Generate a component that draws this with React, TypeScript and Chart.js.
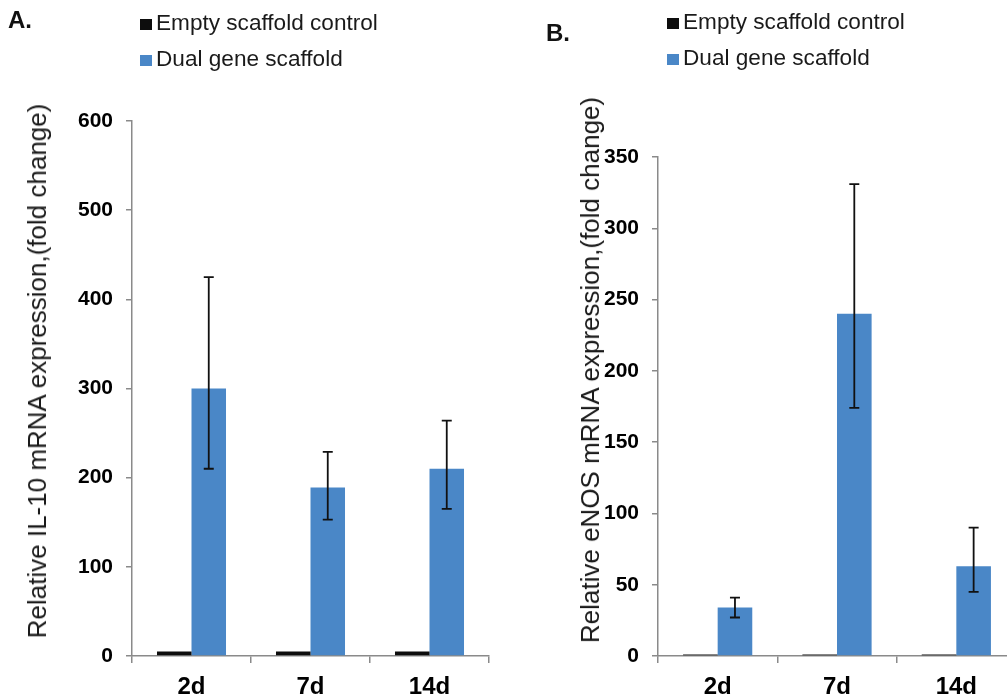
import React, { useEffect, useRef } from 'react';
import { Chart, registerables } from 'chart.js';

Chart.register(...registerables);

// ---------- data ----------
const categories = ['2d', '7d', '14d'];
const seriesNames = ['Empty scaffold control', 'Dual gene scaffold'];

// Panel A: IL-10
const il10Control = [5, 5, 5];
const il10Dual = [300, 189, 210];
const il10DualUpper = [425, 229, 264];
const il10DualLower = [210, 153, 165];
const il10AxisMax = 600;
const il10Step = 100;
const il10Title = 'Relative IL-10 mRNA expression,(fold change)';

// Panel B: eNOS
const enosControl = [1, 1, 1];
const enosDual = [34, 240, 63];
const enosDualUpper = [41, 331, 90];
const enosDualLower = [27, 174, 45];
const enosAxisMax = 350;
const enosStep = 50;
const enosTitle = 'Relative eNOS mRNA expression,(fold change)';

// ---------- style ----------
const FONT = "'Liberation Sans', Arial, Helvetica, sans-serif";
const BLACK = '#0d0d0d';
const BLUE = '#4a87c7';
const AXIS = '#8a8a8a';

const errorBarPlugin = {
  id: 'errorBars',
  afterDatasetsDraw(chart: any, _args: any, opts: any) {
    if (!opts || !opts.upper) return;
    const meta = chart.getDatasetMeta(opts.datasetIndex);
    const yScale = chart.scales.y;
    const ctx = chart.ctx;
    ctx.save();
    ctx.strokeStyle = '#111';
    ctx.lineWidth = 1.8;
    meta.data.forEach((bar: any, i: number) => {
      const x = bar.x;
      const yt = yScale.getPixelForValue(opts.upper[i]);
      const yb = yScale.getPixelForValue(opts.lower[i]);
      ctx.beginPath();
      ctx.moveTo(x, yt);
      ctx.lineTo(x, yb);
      ctx.moveTo(x - 5, yt);
      ctx.lineTo(x + 5, yt);
      ctx.moveTo(x - 5, yb);
      ctx.lineTo(x + 5, yb);
      ctx.stroke();
    });
    ctx.restore();
  },
};

type PanelProps = {
  left: number;
  width: number;
  axisWidth: number;
  padTop: number;
  padRight: number;
  control: number[];
  dual: number[];
  upper: number[];
  lower: number[];
  max: number;
  step: number;
};

function BarPanel(p: PanelProps) {
  const ref = useRef<HTMLCanvasElement | null>(null);
  useEffect(() => {
    if (!ref.current) return;
    const chart = new Chart(ref.current, {
      type: 'bar',
      data: {
        labels: categories,
        datasets: [
          {
            label: seriesNames[0],
            data: p.control,
            backgroundColor: BLACK,
            categoryPercentage: 0.58,
            barPercentage: 1,
          },
          {
            label: seriesNames[1],
            data: p.dual,
            backgroundColor: BLUE,
            categoryPercentage: 0.58,
            barPercentage: 1,
          },
        ],
      },
      options: {
        responsive: false,
        animation: false,
        layout: { padding: { left: 0, top: p.padTop, right: p.padRight, bottom: 0 } },
        plugins: {
          legend: { display: false },
          tooltip: { enabled: false },
          errorBars: { datasetIndex: 1, upper: p.upper, lower: p.lower },
        } as any,
        scales: {
          x: {
            offset: true,
            grid: {
              display: true,
              drawOnChartArea: false,
              drawTicks: true,
              tickLength: 7,
              color: AXIS,
              lineWidth: 1.5,
              offset: true,
            },
            border: { display: true, color: AXIS, width: 1.5 },
            ticks: {
              color: '#000',
              padding: 10,
              font: { family: FONT, size: 24, weight: 'bold' },
            },
            afterFit: (s: any) => {
              s.height = 43;
            },
          },
          y: {
            min: 0,
            max: p.max,
            grid: {
              display: true,
              drawOnChartArea: false,
              drawTicks: true,
              tickLength: 6,
              color: AXIS,
              lineWidth: 1.5,
            },
            border: { display: true, color: AXIS, width: 1.5 },
            ticks: {
              stepSize: p.step,
              color: '#000',
              padding: 13,
              font: { family: FONT, size: 21, weight: 'bold' },
            },
            afterFit: (s: any) => {
              s.width = p.axisWidth;
            },
          },
        },
      } as any,
      plugins: [errorBarPlugin],
    });
    return () => chart.destroy();
  }, []);
  return (
    <canvas
      ref={ref}
      width={p.width}
      height={699}
      style={{ position: 'absolute', left: p.left, top: 0, width: p.width, height: 699 }}
    />
  );
}

function Legend({ left, top }: { left: number; top: number }) {
  const colors = [BLACK, BLUE];
  return (
    <>
      {seriesNames.map((n, i) => (
        <React.Fragment key={n}>
          <div
            style={{
              position: 'absolute',
              left,
              top: top + 5 + i * 36,
              width: 12,
              height: 11,
              background: colors[i],
            }}
          />
          <div
            style={{
              position: 'absolute',
              left: left + 16,
              top: top - 3 + i * 36,
              fontFamily: FONT,
              fontSize: 22.6,
              lineHeight: '24px',
              color: '#1a1a1a',
              whiteSpace: 'nowrap',
            }}
          >
            {n}
          </div>
        </React.Fragment>
      ))}
    </>
  );
}

function AxisTitle({ cx, cy, text }: { cx: number; cy: number; text: string }) {
  return (
    <div
      style={{
        position: 'absolute',
        left: cx,
        top: cy,
        transform: 'translate(-50%, -50%) rotate(-90deg)',
        fontFamily: FONT,
        fontSize: 26,
        lineHeight: '26px',
        color: '#1a1a1a',
        whiteSpace: 'nowrap',
      }}
    >
      {text}
    </div>
  );
}

export default function App() {
  return (
    <div
      style={{
        position: 'fixed',
        left: 0,
        top: 0,
        width: 1007,
        height: 699,
        overflow: 'hidden',
        background: '#fff',
      }}
    >
      <BarPanel
        left={0}
        width={505}
        axisWidth={132}
        padTop={121}
        padRight={16}
        control={il10Control}
        dual={il10Dual}
        upper={il10DualUpper}
        lower={il10DualLower}
        max={il10AxisMax}
        step={il10Step}
      />
      <BarPanel
        left={505}
        width={520}
        axisWidth={153}
        padTop={157}
        padRight={9}
        control={enosControl}
        dual={enosDual}
        upper={enosDualUpper}
        lower={enosDualLower}
        max={enosAxisMax}
        step={enosStep}
      />
      <div
        style={{
          position: 'absolute',
          left: 8,
          top: 7,
          fontFamily: FONT,
          fontSize: 24,
          fontWeight: 'bold',
          lineHeight: '26px',
          color: '#111',
        }}
      >
        A.
      </div>
      <div
        style={{
          position: 'absolute',
          left: 546,
          top: 20,
          fontFamily: FONT,
          fontSize: 24,
          fontWeight: 'bold',
          lineHeight: '26px',
          color: '#111',
        }}
      >
        B.
      </div>
      <Legend left={140} top={14} />
      <Legend left={667} top={13} />
      <AxisTitle cx={37} cy={371} text={il10Title} />
      <AxisTitle cx={590} cy={370} text={enosTitle} />
    </div>
  );
}
